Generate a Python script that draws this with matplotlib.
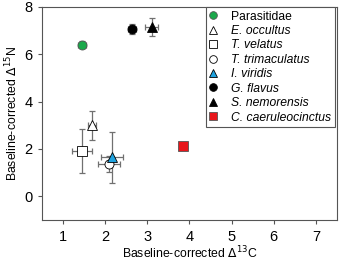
import matplotlib
matplotlib.use("Agg")
import matplotlib.pyplot as plt

plt.rcParams['font.family'] = ['Liberation Sans', 'DejaVu Sans']

# donnees
especes = ["Parasitidae", "E. occultus", "T. velatus", "T. trimaculatus",
           "I. viridis", "G. flavus", "S. nemorensis", "C. caeruleocinctus"]
italique = [False, True, True, True, True, True, True, True]
d13c = [1.45, 1.69, 1.45, 2.09, 2.16, 2.63, 3.10, 3.84]
d13c_err = [0.10, 0.10, 0.24, 0.26, 0.26, 0.10, 0.15, 0.10]
d15n = [6.40, 3.00, 1.90, 1.37, 1.65, 7.08, 7.15, 2.12]
d15n_err = [0.15, 0.62, 0.93, 0.35, 1.08, 0.20, 0.38, 0.15]

marqueurs = ['o', '^', 's', 'o', '^', 'o', '^', 's']
couleurs = ['#1aa84a', 'white', 'white', 'white', '#1fa3e0', 'black', 'black', '#e8161b']
bords = ['#555555', 'black', 'black', 'black', 'black', 'black', 'black', '#555555']

fig = plt.figure(figsize=(3.4, 2.64), dpi=100)
ax = fig.add_axes([0.1235, 0.1667, 0.8675, 0.8068])

for i in range(len(especes)):
    ax.errorbar(d13c[i], d15n[i], xerr=d13c_err[i], yerr=d15n_err[i],
                fmt='none', ecolor='#707070', elinewidth=0.9, capsize=2.2,
                capthick=0.9, zorder=2)
    ax.plot(d13c[i], d15n[i], marker=marqueurs[i], linestyle='none',
            markersize=6.5, markerfacecolor=couleurs[i],
            markeredgecolor=bords[i], markeredgewidth=0.6,
            label=especes[i], zorder=3)

ax.set_xlim(0.5, 7.5)
ax.set_ylim(-1, 8)
ax.set_xticks([1, 2, 3, 4, 5, 6, 7])
ax.set_yticks([0, 2, 4, 6, 8])
ax.tick_params(labelsize=10.5, length=3, width=0.8, color='#555555', pad=4)
for s in ax.spines.values():
    s.set_color('#555555')
    s.set_linewidth(0.8)

ax.set_xlabel(r'Baseline-corrected $\Delta^{13}$C', fontsize=8.8, labelpad=1)
ax.set_ylabel(r'Baseline-corrected $\Delta^{15}$N', fontsize=8.8, labelpad=3)

leg = ax.legend(loc='upper right', bbox_to_anchor=(0.993, 1.0), borderaxespad=0,
                fontsize=8.7, labelspacing=0.2, handletextpad=1.2,
                handlelength=0.6, borderpad=0.3, fancybox=False,
                framealpha=1, edgecolor='#555555', markerscale=0.85)
leg.get_frame().set_linewidth(0.8)
for t, it in zip(leg.get_texts(), italique):
    if it:
        t.set_fontstyle('italic')

fig.savefig('out.png', dpi=100)
